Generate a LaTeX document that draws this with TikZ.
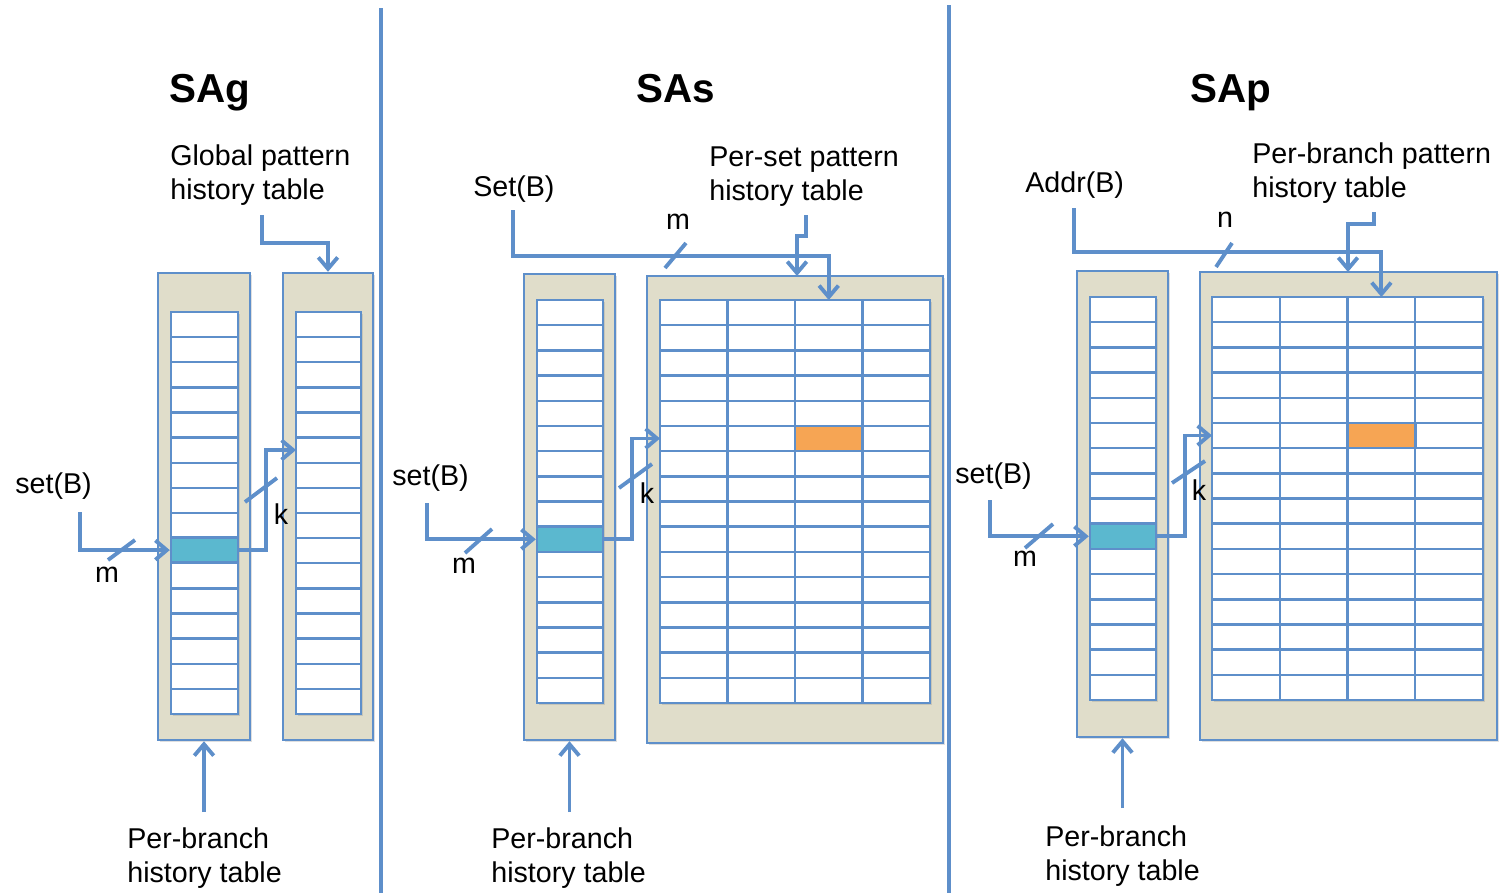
\documentclass[tikz,border=0pt]{standalone}
\usepackage{fontspec}
\setmainfont{Liberation Sans}
\usetikzlibrary{arrows.meta,shadows}
\definecolor{tblue}{HTML}{5E8FCA}
\definecolor{boxtan}{HTML}{E0DDCA}
\definecolor{hitcyan}{HTML}{5BB8CF}
\definecolor{hitorange}{HTML}{F6A554}
\tikzset{
  pxsize/.style 2 args={minimum width=#1*0.02cm, minimum height=#2*0.02cm},
  box/.style={draw=tblue, line width=1.4pt, fill=boxtan, inner sep=0pt,
    drop shadow={shadow xshift=1pt, shadow yshift=-1pt, opacity=.25}},
  histtab/.style={draw=tblue, line width=1.4pt, fill=white,
    drop shadow={shadow xshift=1pt, shadow yshift=-1pt, opacity=.25}},
  gridline/.style={draw=tblue, line width=1.4pt},
  hit/.style={draw=tblue, line width=1.4pt, fill=#1, inner sep=0pt},
  wire/.style={draw=tblue, line width=2.2pt},
  divider/.style={draw=tblue, line width=2pt},
  lbl/.style={font=\fontsize{16.3pt}{19.8pt}\selectfont, inner sep=0pt, align=left, anchor=north west},
  bus/.style={font=\fontsize{16.3pt}{19.8pt}\selectfont, inner sep=0pt},
  ttl/.style={font=\fontsize{23pt}{27pt}\selectfont\bfseries, anchor=base},
}
\begin{document}
\begin{tikzpicture}[x=0.02cm,y=-0.02cm,>={Straight Barb[length=6.5pt,width=11pt]}]
      \useasboundingbox (0,0) rectangle (1499,893);
      \draw[divider] (381,8) -- (381,893);
      \draw[divider] (949,5) -- (949,893);
      %
      % SAg
      \node[ttl] (sagtitle) at (210,102) {SAg};
      \node[lbl] (sagglobal) at (170,144) {Global pattern\\history table};
      \node[lbl] (sagperbranch) at (127,827) {Per-branch\\history table};
      \node[lbl] (sagset) at (15,472) {set(B)};
      \node[box, pxsize={92}{467}] (sagbht) at (204,506.5) {};
      \node[box, pxsize={90}{467}] (sagpht) at (328,506.5) {};
      \draw[histtab] (171,312) rectangle (238,714);
      \foreach \r in {1,...,15} \draw[gridline] (171,{312+\r*25.125}) -- (238,{312+\r*25.125});
      \draw[histtab] (296,312) rectangle (361,714);
      \foreach \r in {1,...,15} \draw[gridline] (296,{312+\r*25.125}) -- (361,{312+\r*25.125});
      \node[hit=hitcyan, pxsize={67}{25.1}] (sagrow) at (204.5,550.1) {};
      \coordinate (sagsetin) at (80,512);
      \coordinate (saghit) at (296,450);
      \coordinate (sagglobin) at (262,215);
      \coordinate (sagbhtin) at (204,812);
      \draw[wire,->] (sagsetin) |- (sagrow.west);
      \draw[wire] (108,560) -- (135,540);
      \node[bus] (sagm) at (107,575) {m};
      \draw[wire,->] (sagrow.east) -- (266,550.1) |- (saghit);
      \draw[wire] (245,502) -- (277,478);
      \node[bus] (sagk) at (281,514) {k};
      \draw[wire,->] (sagglobin) -- (262,243) -| (sagpht.north);
      \draw[wire,->] (sagbhtin) -- (sagbht.south);
      %
      % SAs
      \node[ttl] (sastitle) at (675.5,102) {SAs};
      \node[lbl] (sasset) at (473,175) {Set(B)};
      \node[lbl] (saspattern) at (709,146) {Per-set pattern\\history table};
      \node[lbl] (sasperbranch) at (491,827) {Per-branch\\history table};
      \node[lbl] (sassetb) at (392,464) {set(B)};
      \node[box, pxsize={91}{466}] (sasbht) at (569.5,507) {};
      \node[box, pxsize={296}{467}] (saspht) at (795,509.5) {};
      \draw[histtab] (537,300) rectangle (603,703);
      \foreach \r in {1,...,15} \draw[gridline] (537,{300+\r*25.19}) -- (603,{300+\r*25.19});
      \draw[histtab] (660,300) rectangle (930,703);
      \foreach \r in {1,...,15} \draw[gridline] (660,{300+\r*25.19}) -- (930,{300+\r*25.19});
      \foreach \c in {1,2,3} \draw[gridline] ({660+\c*67.5},300) -- ({660+\c*67.5},703);
      \node[hit=hitcyan, pxsize={66}{25.2}] (sasrow) at (570,539.3) {};
      \node[hit=hitorange, pxsize={67.5}{25.2}] (sasentry) at (828.75,438.5) {};
      \coordinate (sassetin) at (427,503);
      \coordinate (sashit) at (660,438.5);
      \coordinate (sassetbin) at (513,210);
      \coordinate (sascol) at (828.75,300);
      \coordinate (saspatin) at (806,215);
      \coordinate (saspttop) at (797,276);
      \coordinate (sasbhtin) at (569.5,812);
      \draw[wire,->] (sassetin) |- (sasrow.west);
      \draw[wire] (465,553) -- (492,529);
      \node[bus] (sasm) at (464,566) {m};
      \draw[wire,->] (sasrow.east) -- (632,539.3) |- (sashit);
      \draw[wire] (619,488) -- (652,464);
      \node[bus] (sask) at (647,493) {k};
      \draw[wire,->] (sassetbin) -- (513,256) -| (sascol);
      \draw[wire] (665,268) -- (686,243);
      \node[bus] (sasmtop) at (678,222) {m};
      \draw[wire,->] (saspatin) -- (806,236) -| (saspttop);
      \draw[wire,->] (sasbhtin) -- (sasbht.south);
      %
      % SAp
      \node[ttl] (saptitle) at (1230.5,102) {SAp};
      \node[lbl] (sapaddr) at (1025,171) {Addr(B)};
      \node[lbl] (sappattern) at (1252,142) {Per-branch pattern\\history table};
      \node[lbl] (sapperbranch) at (1045,825) {Per-branch\\history table};
      \node[lbl] (sapsetb) at (955,462) {set(B)};
      \node[box, pxsize={91}{466}] (sapbht) at (1122.5,504) {};
      \node[box, pxsize={297}{468}] (sappht) at (1348.5,506) {};
      \draw[histtab] (1090,297) rectangle (1156,700);
      \foreach \r in {1,...,15} \draw[gridline] (1090,{297+\r*25.19}) -- (1156,{297+\r*25.19});
      \draw[histtab] (1212,297) rectangle (1483,700);
      \foreach \r in {1,...,15} \draw[gridline] (1212,{297+\r*25.19}) -- (1483,{297+\r*25.19});
      \foreach \c in {1,2,3} \draw[gridline] ({1212+\c*67.75},297) -- ({1212+\c*67.75},700);
      \node[hit=hitcyan, pxsize={66}{25.2}] (saprow) at (1123,536.3) {};
      \node[hit=hitorange, pxsize={67.75}{25.2}] (sapentry) at (1381.4,435.5) {};
      \coordinate (sapsetin) at (990,500);
      \coordinate (saphit) at (1212,435.5);
      \coordinate (sapaddrin) at (1074,208);
      \coordinate (sapcol) at (1381.4,297);
      \coordinate (sappatin) at (1374,212);
      \coordinate (sappttop) at (1348,272);
      \coordinate (sapbhtin) at (1122.5,808);
      \draw[wire,->] (sapsetin) |- (saprow.west);
      \draw[wire] (1025,548) -- (1053,524);
      \node[bus] (sapm) at (1025,559) {m};
      \draw[wire,->] (saprow.east) -- (1185,536.3) |- (saphit);
      \draw[wire] (1172,483) -- (1205,461);
      \node[bus] (sapk) at (1199,490) {k};
      \draw[wire,->] (sapaddrin) -- (1074,252) -| (sapcol);
      \draw[wire] (1216,267) -- (1232,243);
      \node[bus] (sapn) at (1225,220) {n};
      \draw[wire,->] (sappatin) -- (1374,224) -| (sappttop);
      \draw[wire,->] (sapbhtin) -- (sapbht.south);
    \end{tikzpicture}
\end{document}
